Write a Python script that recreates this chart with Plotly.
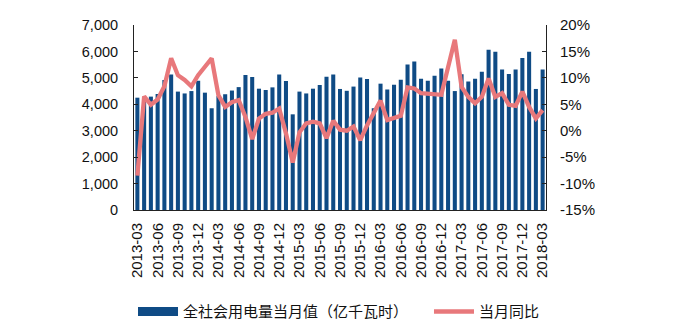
import plotly.graph_objects as go

months = [f"{y}-{m:02d}" for y in range(2013, 2019) for m in range(1, 13)]
months = months[months.index("2013-03"):months.index("2018-03") + 1]

consumption = [
    4250, 4200, 4290, 4390, 4920, 5130, 4480, 4410, 4500, 4890,
    4440, 3850, 4310, 4380, 4520, 4650, 5110, 5030, 4590, 4540,
    4640, 5130, 4880, 3620, 4480, 4410, 4590, 4730, 5040, 5130,
    4580, 4510, 4670, 5010, 4960, 3850, 4780, 4560, 4740, 4930,
    5510, 5620, 4970, 4890, 5080, 5350, 4890, 4500, 5140, 4860,
    4970, 5230, 6060, 5990, 5320, 5150, 5320, 5750, 5990, 4580,
    5320,
]

yoy = [
    -8.5, 6.5, 4.9, 5.9, 8.4, 13.7, 10.5, 9.6, 8.4, 10.5,
    12.1, 13.7, 6.7, 4.5, 5.4, 5.8, 2.6, -1.6, 2.3, 3.2,
    3.4, 4.2, -0.5, -6.0, -0.3, 1.4, 1.7, 1.4, -1.4, 1.9,
    0.2, 0.0, 0.8, -1.8, 1.0, 3.3, 5.7, 2.0, 2.3, 2.8,
    8.2, 8.0, 7.1, 7.0, 7.0, 6.8, 12.0, 17.2, 8.3, 6.4,
    5.2, 6.4, 9.9, 6.4, 7.1, 4.9, 4.7, 7.4, 4.5, 2.3,
    3.9,
]

tick_labels = months[::3]
left_ticks = list(range(0, 7001, 1000))
right_ticks = list(range(-15, 21, 5))
right_text = [f"{v}%" for v in right_ticks]

bar_name = "全社会用电量当月值（亿千瓦时）"
line_name = "当月同比"
BAR_COLOR = "#0F4B85"
LINE_COLOR = "#E8787B"
AXIS_COLOR = "#222222"
TXT = "#111111"

fig = go.Figure()
fig.add_trace(go.Bar(x=months, y=consumption, name=bar_name,
                     marker=dict(color=BAR_COLOR, line=dict(width=0)),
                     showlegend=False, yaxis="y"))
# legend swatch for bars (wide rectangle like reference)
fig.add_trace(go.Scatter(x=[None], y=[None], mode="lines", name=bar_name,
                         line=dict(color=BAR_COLOR, width=9), yaxis="y",
                         legend="legend"))
fig.add_trace(go.Scatter(x=months, y=yoy, name=line_name, mode="lines",
                         line=dict(color=LINE_COLOR, width=4.3), yaxis="y2",
                         legend="legend2"))

legend_font = dict(size=15, family="Noto Sans CJK SC", color=TXT)

fig.update_layout(
    width=680, height=330,
    margin=dict(l=134, r=134, t=25, b=120, autoexpand=False),
    paper_bgcolor="white", plot_bgcolor="white",
    bargap=0.4,
    font=dict(family="Liberation Sans, Noto Sans CJK SC", color=TXT),
    xaxis=dict(type="category", tickmode="array", tickvals=tick_labels,
               ticktext=tick_labels, tickangle=-90, automargin=False,
               tickfont=dict(size=15, family="Liberation Sans", color=TXT),
               showline=True, linecolor=AXIS_COLOR, linewidth=1,
               ticks="", showgrid=False, ticklabelstandoff=6),
    yaxis=dict(range=[0, 7000], tickvals=left_ticks, tickformat=",",
               automargin=False,
               tickfont=dict(size=14.5, family="Liberation Sans", color=TXT),
               showline=True, linecolor=AXIS_COLOR, linewidth=1,
               ticks="inside", ticklen=4, tickcolor=AXIS_COLOR,
               showgrid=False, zeroline=False, ticklabelstandoff=12),
    yaxis2=dict(range=[-15, 20], tickvals=right_ticks, ticktext=right_text,
                overlaying="y", side="right", automargin=False,
                tickfont=dict(size=15, family="Liberation Sans", color=TXT),
                showline=True, linecolor=AXIS_COLOR, linewidth=1,
                ticks="inside", ticklen=4, tickcolor=AXIS_COLOR,
                showgrid=False, zeroline=False, ticklabelstandoff=10),
    legend=dict(orientation="h", x=-0.0024, xanchor="left", y=-0.55,
                yanchor="middle", font=legend_font, itemwidth=40),
    legend2=dict(orientation="h", x=0.716, xanchor="left", y=-0.55,
                 yanchor="middle", font=legend_font, itemwidth=40),
)

fig.write_html("out.html")
